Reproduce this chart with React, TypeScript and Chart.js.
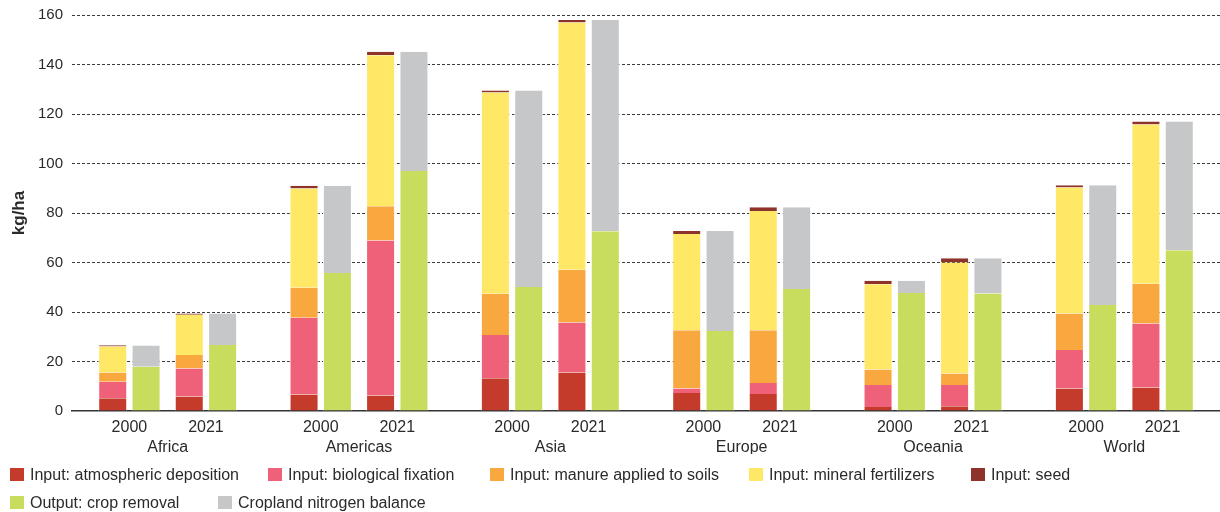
import React, { useEffect, useRef } from 'react';
import { Chart, registerables } from 'chart.js';

Chart.register(...registerables);

// Categories
const regions = ['Africa', 'Americas', 'Asia', 'Europe', 'Oceania', 'World'];
const years = ['2000', '2021'];

// Values in kg/ha, order: Africa 2000, Africa 2021, Americas 2000, Americas 2021, ...
const atmosphericDeposition = [5.2, 5.9, 6.7, 6.3, 13.2, 15.6, 7.3, 6.9, 1.6, 1.9, 9.1, 9.5];
const biologicalFixation = [6.6, 11.3, 31.0, 62.6, 17.5, 20.2, 1.8, 4.4, 8.9, 8.6, 15.5, 25.9];
const manureApplied = [3.8, 5.4, 12.1, 13.8, 16.7, 21.3, 23.5, 21.3, 6.3, 4.7, 14.8, 16.0];
const mineralFertilizers = [10.5, 16.3, 40.1, 61.0, 81.3, 99.9, 38.9, 48.2, 34.4, 44.8, 50.9, 64.4];
const seed = [0.5, 0.5, 1.1, 1.5, 0.8, 1.0, 1.2, 1.5, 1.4, 1.7, 0.9, 1.2];
const cropRemoval = [17.9, 26.7, 55.8, 97.0, 50.1, 72.6, 32.3, 49.3, 47.7, 47.5, 42.8, 65.0];
const nitrogenBalance = [8.6, 12.7, 35.2, 48.2, 79.4, 85.4, 40.4, 33.0, 4.9, 14.2, 48.4, 52.0];

// Y axis ticks
const yTicks = [0, 20, 40, 60, 80, 100, 120, 140, 160];

const FONT = "'Liberation Sans', Arial, sans-serif";
const TEXT = '#2a2a2a';

// Build slot layout: per region [gap, 2000, region label, 2021, gap]
const labels: (string | string[])[] = [];
regions.forEach((r) => {
  labels.push('', years[0], ['', r], years[1], '');
});

function toSlots(values: number[]): (number | null)[] {
  const out: (number | null)[] = [];
  regions.forEach((_, ri) => {
    out.push(null, values[ri * 2], null, values[ri * 2 + 1], null);
  });
  return out;
}

const seriesDefs = [
  { label: 'Input: atmospheric deposition', data: atmosphericDeposition, color: '#c53b2b', stack: 'in' },
  { label: 'Input: biological fixation', data: biologicalFixation, color: '#ee6179', stack: 'in' },
  { label: 'Input: manure applied to soils', data: manureApplied, color: '#f8a83f', stack: 'in' },
  { label: 'Input: mineral fertilizers', data: mineralFertilizers, color: '#fee866', stack: 'in' },
  { label: 'Input: seed', data: seed, color: '#8e332b', stack: 'in' },
  { label: 'Output: crop removal', data: cropRemoval, color: '#c8dc5e', stack: 'out' },
  { label: 'Cropland nitrogen balance', data: nitrogenBalance, color: '#c6c7c9', stack: 'out' },
];

// Legend layout (pixel placement of each legend entry)
const legendLeft = [10, 268, 490, 749, 971, 10, 218];
const legendTop = [468, 468, 468, 468, 468, 496, 496];

export default function App() {
  const ref = useRef<HTMLCanvasElement>(null);

  useEffect(() => {
    const canvas = ref.current;
    if (!canvas) return;
    const chart = new Chart(canvas, {
      type: 'bar',
      data: {
        labels,
        datasets: seriesDefs.map((s) => ({
          label: s.label,
          data: toSlots(s.data),
          backgroundColor: s.color,
          borderColor: '#ffffff',
          borderWidth: { top: 0, bottom: 0, left: 1, right: 1 },
          borderSkipped: 'start',
          stack: s.stack,
          categoryPercentage: 1.743,
          barPercentage: 0.87,
        })),
      },
      options: {
        animation: false,
        responsive: true,
        maintainAspectRatio: false,
        layout: { padding: { top: 15, right: 0, left: 0, bottom: 58 } },
        plugins: {
          tooltip: { enabled: false },
          legend: { display: false },
        },
        scales: {
          x: {
            stacked: true,
            grid: { display: false, drawTicks: false },
            border: { display: true, color: '#333333', width: 1.5 },
            ticks: {
              autoSkip: false,
              maxRotation: 0,
              minRotation: 0,
              padding: 7,
              color: TEXT,
              font: { family: FONT, size: 16, lineHeight: 1.25 },
            },
            afterFit: (scale: any) => {
              scale.height = 43;
              scale.paddingLeft = 0;
              scale.paddingRight = 0;
            },
          },
          y: {
            stacked: true,
            min: 0,
            max: 160,
            afterBuildTicks: (scale: any) => {
              scale.ticks = yTicks.map((v) => ({ value: v }));
            },
            grid: {
              drawTicks: false,
              color: (c: any) => (c.tick && c.tick.value === 0 ? 'rgba(0,0,0,0)' : '#3a3a3a'),
              lineWidth: 1,
            },
            border: { display: false, dash: [3, 2] },
            ticks: {
              padding: 9,
              color: TEXT,
              font: { family: FONT, size: 15 },
            },
            title: {
              display: true,
              text: 'kg/ha',
              color: TEXT,
              font: { family: FONT, size: 17, weight: 'bold' },
              padding: { top: 9, bottom: 0 },
            },
            afterFit: (scale: any) => {
              scale.width = 72;
              scale.paddingTop = 0;
              scale.paddingBottom = 0;
            },
          },
        },
      },
    } as any);
    return () => chart.destroy();
  }, []);

  return (
    <div style={{ position: 'fixed', left: 0, top: 0, width: 1220, height: 512, background: '#fff' }}>
      <canvas ref={ref} />
      {seriesDefs.map((s, i) => (
        <div
          key={s.label}
          style={{
            position: 'absolute',
            left: legendLeft[i],
            top: legendTop[i],
            height: 13,
            display: 'flex',
            alignItems: 'center',
            whiteSpace: 'nowrap',
          }}
        >
          <span style={{ display: 'inline-block', width: 14, height: 13, background: s.color, marginRight: 6 }} />
          <span style={{ fontFamily: FONT, fontSize: 16, color: TEXT, lineHeight: '13px' }}>{s.label}</span>
        </div>
      ))}
    </div>
  );
}
